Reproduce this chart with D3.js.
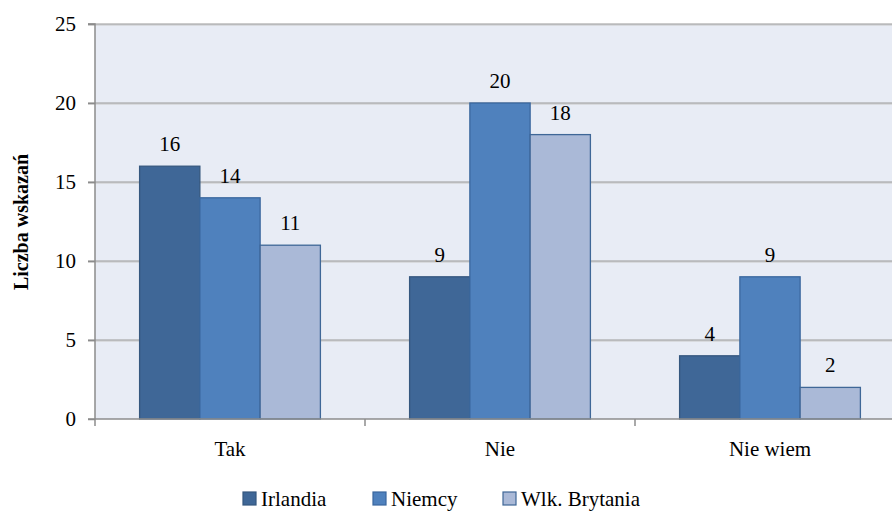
<!DOCTYPE html>
<html><head><meta charset="utf-8">
<script src="https://cdn.jsdelivr.net/npm/d3@7"></script>
<style>body{margin:0;background:#fff;font-family:"Liberation Serif",serif}svg{display:block}</style>
</head><body>
<svg id="c" width="892" height="515" style="font-family:'Liberation Serif',serif"><style>text{font-family:"Liberation Serif",serif}</style></svg>
<script>
const categories = ["Tak", "Nie", "Nie wiem"];
const seriesNames = ["Irlandia", "Niemcy", "Wlk. Brytania"];
const irlandia = [16, 9, 4];
const niemcy = [14, 20, 9];
const wlkBrytania = [11, 18, 2];
const yTicks = [0, 5, 10, 15, 20, 25];
const colors = ["#3F6797", "#4F81BD", "#AAB9D7"];
const strokes = ["#35577F", "#3A679E", "#3F6797"];
const FONT = "'Liberation Serif', serif";

const svg = d3.select("#c");
const m = {left: 95, top: 24, right: 905, bottom: 419};

const x = d3.scaleBand().domain(categories).range([m.left, m.right]);
const x1 = d3.scaleBand().domain(seriesNames).range([0, x.bandwidth()]).paddingOuter(0.74).paddingInner(0);
const y = d3.scaleLinear().domain([0, 25]).range([m.bottom, m.top]);

function txt(sel) {
  return sel.append("text").style("font-family", FONT).attr("font-family", "Liberation Serif").attr("fill", "#000");
}

svg.append("rect").attr("x", m.left).attr("y", m.top).attr("width", m.right - m.left).attr("height", m.bottom - m.top).attr("fill", "#E8ECF5");

yTicks.filter(d => d > 0).forEach(t => {
  svg.append("line").attr("x1", m.left - 7).attr("x2", m.right).attr("y1", y(t) + 1).attr("y2", y(t) + 1).attr("stroke", "#C8C8C8").attr("stroke-width", 1);
  svg.append("line").attr("x1", m.left - 7).attr("x2", m.right).attr("y1", y(t)).attr("y2", y(t)).attr("stroke", "#9A9A9A").attr("stroke-width", 1.2);
});

const data = [irlandia, niemcy, wlkBrytania];
categories.forEach((c, ci) => {
  seriesNames.forEach((s, si) => {
    const v = data[si][ci];
    const bx = x(c) + x1(s);
    svg.append("rect").attr("x", bx).attr("y", y(v)).attr("width", x1.bandwidth()).attr("height", y(0) - y(v))
      .attr("fill", colors[si]).attr("stroke", strokes[si]).attr("stroke-width", 1.3);
    txt(svg).attr("x", bx + x1.bandwidth() / 2).attr("y", y(v) - 15).attr("text-anchor", "middle")
      .attr("font-size", 21).style("font-size", "21px").text(v);
  });
});

const yAxis = d3.axisLeft(y).tickValues(yTicks).tickSize(7).tickPadding(12);
const gy = svg.append("g").attr("transform", `translate(${m.left},0)`).call(yAxis);
gy.attr("font-family", "Liberation Serif").attr("font-size", 21);
gy.select(".domain").attr("stroke", "#8C8C8C").attr("stroke-width", 1.5).attr("d", `M-7,${m.top}H0V${m.bottom}`);
gy.selectAll(".tick line").attr("stroke", "#8C8C8C").attr("stroke-width", 1.5);
gy.selectAll("text").style("font-family", FONT).style("font-size", "21px").attr("fill", "#000");

const gx = svg.append("g").attr("transform", `translate(0,${m.bottom})`);
gx.append("line").attr("x1", m.left - 7).attr("x2", m.right).attr("y1", 0).attr("y2", 0).attr("stroke", "#8C8C8C").attr("stroke-width", 1.5);
const bounds = categories.map(c => x(c)).concat([m.right]);
bounds.forEach(b => gx.append("line").attr("x1", b).attr("x2", b).attr("y1", 0).attr("y2", 7).attr("stroke", "#8C8C8C").attr("stroke-width", 1.5));
categories.forEach(c => txt(gx).attr("x", x(c) + x.bandwidth() / 2).attr("y", 37).attr("text-anchor", "middle")
  .attr("font-size", 21).style("font-size", "21px").text(c));

txt(svg).attr("transform", `translate(28,222) rotate(-90)`).attr("text-anchor", "middle")
  .attr("font-size", 20).style("font-size", "20px").attr("font-weight", "bold").style("font-weight", "bold").text("Liczba wskazań");

const legX = [243, 373, 503];
seriesNames.forEach((s, i) => {
  svg.append("rect").attr("x", legX[i]).attr("y", 492).attr("width", 13).attr("height", 13)
    .attr("fill", colors[i]).attr("stroke", strokes[i]).attr("stroke-width", 1.2);
  txt(svg).attr("x", legX[i] + 18).attr("y", 506).attr("font-size", 21).style("font-size", "21px").text(s);
});
</script>
</body></html>
